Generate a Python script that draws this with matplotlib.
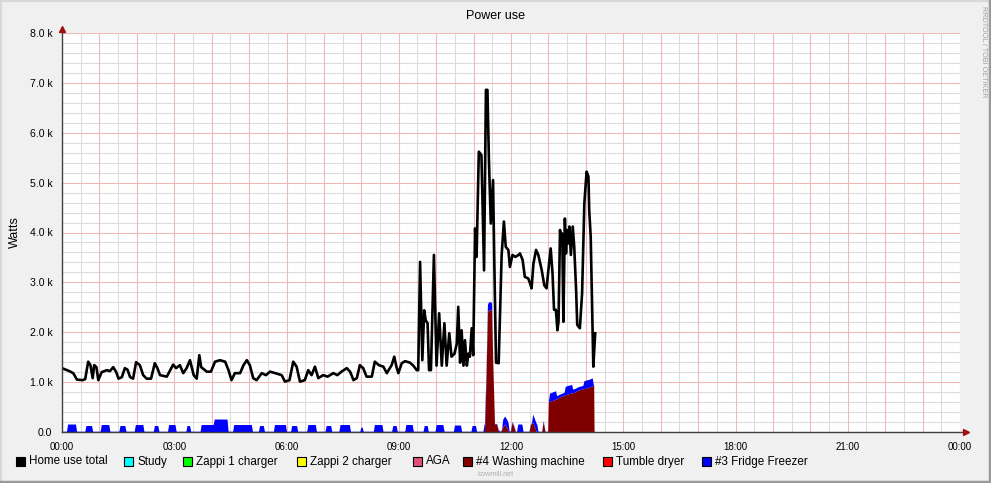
import numpy as np
import matplotlib
matplotlib.use("Agg")
import matplotlib.pyplot as plt
from matplotlib.lines import Line2D
from matplotlib.patches import Rectangle

plt.rcParams['font.family'] = ['Liberation Sans', 'DejaVu Sans']

# ---------------- data (time in hours, power in W) ----------------
total_t = [0.0, 0.1, 0.2, 0.3, 0.4, 0.55, 0.62, 0.7, 0.76, 0.82, 0.86, 0.92, 0.97, 1.06, 1.2, 1.28,
           1.37, 1.45, 1.51, 1.6, 1.68, 1.75, 1.82, 1.9, 1.98, 2.08, 2.17, 2.26, 2.38, 2.48, 2.55,
           2.62, 2.8, 2.97, 3.05, 3.15, 3.24, 3.33, 3.42, 3.52, 3.6, 3.67, 3.72, 3.87, 3.98, 4.09,
           4.22, 4.36, 4.45, 4.53, 4.62, 4.76,
           4.85, 4.94, 5.02, 5.11, 5.2, 5.34, 5.45, 5.56, 5.7, 5.87, 5.96, 6.08, 6.18, 6.27, 6.36,
           6.49, 6.58, 6.67, 6.76, 6.85, 6.98, 7.1, 7.25, 7.36, 7.47, 7.61, 7.7, 7.79, 7.88, 7.96,
           8.05, 8.14, 8.28, 8.36, 8.47, 8.59, 8.68, 8.81, 8.88, 8.94, 8.99, 9.08, 9.17,
           9.30, 9.39, 9.48, 9.52, 9.57, 9.63, 9.68, 9.72, 9.77, 9.81, 9.86, 9.94, 10.01, 10.08,
           10.15, 10.22, 10.28, 10.35, 10.41, 10.49, 10.55, 10.59, 10.64, 10.68, 10.73, 10.77,
           10.82, 10.86, 10.90, 10.95, 10.99, 11.04, 11.08, 11.14, 11.21, 11.28, 11.33, 11.37,
           11.41, 11.46, 11.52, 11.55, 11.60, 11.67, 11.75, 11.81, 11.86, 11.93, 11.97, 12.04,
           12.12, 12.2, 12.24, 12.31, 12.37, 12.46, 12.51, 12.55, 12.60, 12.67, 12.73, 12.82,
           12.89, 12.95, 12.99, 13.06, 13.11, 13.15, 13.20, 13.24, 13.27, 13.31, 13.34, 13.37,
           13.40, 13.44, 13.47, 13.50, 13.53, 13.56, 13.60, 13.65, 13.69, 13.74, 13.77, 13.84,
           13.90, 13.96, 14.02, 14.07, 14.09, 14.13, 14.20, 14.25]
total_w = [1280, 1250, 1220, 1180, 1050, 1040, 1060, 1410, 1340, 1080, 1340, 1300, 1040, 1200, 1240, 1220,
           1300, 1200, 1070, 1100, 1280, 1250, 1100, 1070, 1400, 1340, 1140, 1070, 1070, 1380, 1280,
           1140, 1110, 1350, 1280, 1340, 1180, 1280, 1440, 1140, 1070, 1540, 1300, 1210, 1210, 1410,
           1440, 1410, 1240, 1040, 1180, 1180,
           1340, 1440, 1340, 1080, 1040, 1180, 1140, 1210, 1180, 1140, 1010, 1040, 1410, 1310, 1010,
           1040, 1240, 1140, 1310, 1080, 1140, 1110, 1180, 1140, 1210, 1280, 1210, 1040, 1080, 1340,
           1280, 1110, 1110, 1410, 1340, 1310, 1180, 1340, 1510, 1300, 1180, 1380, 1420,
           1390, 1330, 1240, 1240, 3410, 1440, 2440, 2240, 2180, 1240, 1240, 3550, 1330, 2380,
           1330, 2180, 1330, 1980, 1510, 1570, 1770, 2510, 1390, 2040, 1330, 1840,
           1330, 1570, 1510, 2080, 1540, 4080, 3510, 5620, 5550, 3240, 6860, 6860,
           5450, 4180, 5050, 3580, 1390, 1380, 3550, 4220, 3710, 3650, 3310, 3550,
           3510, 3550, 3580, 3450, 3110, 3080, 2980, 2880, 3380, 3650, 3550, 3250,
           2940, 2880, 3180, 3680, 3180, 2450, 2450, 2040, 2210, 4050, 3850, 3980,
           2210, 4280, 3580, 4050, 3780, 4120, 3550, 4120, 3710, 2850, 2150, 2080,
           2780, 4580, 5220, 5120, 4450, 3920, 1310, 1980]

washer_t = [11.20, 11.29, 11.33, 11.37, 11.40, 11.48, 11.52, 11.56, 11.62, 11.66, 11.72, 11.78, 11.83,
            11.88, 11.93, 11.98, 12.03, 12.08, 12.12, 12.48, 12.52, 12.58, 12.64, 12.68, 12.82,
            12.86, 12.91, 12.98, 13.0, 13.1, 13.2, 13.3, 13.4, 13.5, 13.6, 13.7, 13.8, 13.9,
            14.0, 14.1, 14.18, 14.21, 14.22]
washer_w = [0, 0, 1000, 2400, 2450, 2450, 1200, 150, 150, 30, 0, 100, 160,
            100, 20, 0, 200, 100, 0, 0, 150, 200, 80, 0, 0,
            220, 0, 0, 600, 630, 660, 700, 730, 760, 780, 800, 840, 860,
            880, 900, 930, 930, 0]

fridge_start = [0.12, 0.61, 1.02, 1.52, 1.93, 2.44, 2.82, 3.31, 3.69, 4.07, 4.56, 5.25, 5.65, 6.11,
                6.54, 7.03, 7.40, 7.96, 8.32, 8.81, 9.16, 9.65, 9.97, 10.46, 10.93, 11.25, 11.75,
                12.15, 12.55, 13.00, 13.22, 13.45, 13.65, 13.95]
fridge_end = [0.39, 0.82, 1.28, 1.71, 2.19, 2.59, 3.05, 3.44, 4.07, 4.44, 5.09, 5.41, 6.00, 6.30,
              6.80, 7.21, 7.71, 8.05, 8.58, 8.96, 9.39, 9.79, 10.21, 10.68, 11.08, 11.50, 11.95,
              12.32, 12.72, 13.22, 13.45, 13.65, 13.95, 14.20]
fridge_peak = [160, 130, 150, 130, 150, 130, 150, 130, 150, 260, 150, 130, 150, 130,
               150, 130, 150, 100, 150, 130, 150, 130, 150, 140, 130, 160, 160,
               160, 160, 170, 60, 170, 70, 160]
fridge_idle = 15

legend_labels = ["Home use total", "Study", "Zappi 1 charger", "Zappi 2 charger", "AGA",
                 "#4 Washing machine", "Tumble dryer", "#3 Fridge Freezer"]
legend_colors = ["#000000", "#00ffff", "#00ff00", "#ffff00", "#e0507a",
                 "#800000", "#ff0000", "#0000ff"]
xtick_hours = [0, 3, 6, 9, 12, 15, 18, 21, 24]
xtick_labels = ["00:00", "03:00", "06:00", "09:00", "12:00", "15:00", "18:00", "21:00", "00:00"]
ytick_vals = [0, 1000, 2000, 3000, 4000, 5000, 6000, 7000, 8000]
ytick_labels = ["0.0", "1.0 k", "2.0 k", "3.0 k", "4.0 k", "5.0 k", "6.0 k", "7.0 k", "8.0 k"]

# ---------------- figure ----------------
W, H = 991, 483
fig = plt.figure(figsize=(W / 100, H / 100), dpi=100, facecolor="#f0f0f0")
L, R, T, B = 62, 960, 33, 432
ax = fig.add_axes([L / W, (H - B) / H, (R - L) / W, (B - T) / H])
ax.set_facecolor("white")
ax.set_xlim(0, 24)
ax.set_ylim(0, 8000)

# grid
for h in np.arange(0.5, 24, 1.0):
    ax.axvline(h, color="#dcdcdc", lw=0.8, zorder=0)
for v in np.arange(200, 8001, 200):
    if v % 1000:
        ax.axhline(v, color="#dcdcdc", lw=0.8, zorder=0)
for h in range(1, 25):
    ax.axvline(h, color="#f2b8b8", lw=0.8, zorder=0.5)
for v in range(1000, 8001, 1000):
    ax.axhline(v, color="#f2b8b8", lw=0.8, zorder=0.5)

# fridge shape vertices from humps
ramp = 0.03
ft, fw = [0.0], [fridge_idle]
for a, b, p in zip(fridge_start, fridge_end, fridge_peak):
    if ft[-1] >= a - 1e-9:
        fw[-1] = p
        ft += [b - ramp, b]
        fw += [p, fridge_idle]
    else:
        ft += [a, a + ramp, b - ramp, b]
        fw += [fridge_idle, p, p, fridge_idle]
ft.append(14.25)
fw.append(fridge_idle)
ft = np.array(ft)
fw = np.array(fw)

grid_t = np.union1d(ft, np.array(washer_t))
wash_i = np.interp(grid_t, washer_t, washer_w, left=0, right=0)
fr_i = np.interp(grid_t, ft, fw)
ax.fill_between(grid_t, 0, wash_i, color="#800000", lw=0, zorder=2)
ax.fill_between(grid_t, wash_i, wash_i + fr_i, color="#0000ff", lw=0, zorder=2)

ax.plot(total_t, total_w, color="black", lw=1.9, zorder=3, solid_joinstyle="round")

# axes lines and arrows
for s in ax.spines.values():
    s.set_visible(False)
ax.plot([0, 24.15], [0, 0], color="#404040", lw=1.0, clip_on=False, zorder=4)
ax.plot([0, 0], [0, 8080], color="#404040", lw=1.0, clip_on=False, zorder=4)
ax.plot([24.15], [0], marker=">", color="#a01010", ms=4, clip_on=False, zorder=5)
ax.plot([0], [8080], marker="^", color="#a01010", ms=4, clip_on=False, zorder=5)

ax.set_xticks(xtick_hours)
ax.set_xticklabels(xtick_labels)
ax.set_yticks(ytick_vals)
ax.set_yticklabels(ytick_labels)
ax.tick_params(axis="both", length=0, colors="black")
ax.tick_params(axis="x", pad=7, labelsize=7)
ax.tick_params(axis="y", pad=7, labelsize=7.6)

fig.text(496 / W, 1 - 16 / H, "Power use", ha="center", va="center", fontsize=9)
fig.text(15 / W, 1 - 232 / H, "Watts", ha="center", va="center", rotation=90, fontsize=9)
fig.text(983 / W, 1 - 52 / H, "RRDTOOL / TOBI OETIKER", ha="center", va="center",
         rotation=270, fontsize=5.2, color="#a0a0a0")
fig.text(496 / W, 1 - 474 / H, "bowmill.net", ha="center", va="center", fontsize=5.2,
         color="#b0b0b0")

# legend
box_x = [16, 124, 183, 297, 413, 463, 603, 702]
for bx, lab, col in zip(box_x, legend_labels, legend_colors):
    fig.patches.append(Rectangle((bx / W, 1 - 465.5 / H), 8.5 / W, 8.5 / H, transform=fig.transFigure,
                                 facecolor=col, edgecolor="black", lw=0.8))
    fig.text((bx + 13) / W, 1 - 461.5 / H, lab, ha="left", va="center", fontsize=8.4)

# 3D frame
fig.add_artist(Line2D([0.5 / W, 0.5 / W], [0, 1], transform=fig.transFigure, color="#d8d8d8", lw=1.5))
fig.add_artist(Line2D([0, 1], [1 - 0.5 / H, 1 - 0.5 / H], transform=fig.transFigure, color="#d8d8d8", lw=1.5))
fig.add_artist(Line2D([1 - 1.5 / W, 1 - 1.5 / W], [0, 1], transform=fig.transFigure, color="#9a9a9a", lw=2.5))
fig.add_artist(Line2D([0, 1], [1.5 / H, 1.5 / H], transform=fig.transFigure, color="#9a9a9a", lw=2.5))

fig.savefig("out.png", dpi=100, facecolor=fig.get_facecolor())
